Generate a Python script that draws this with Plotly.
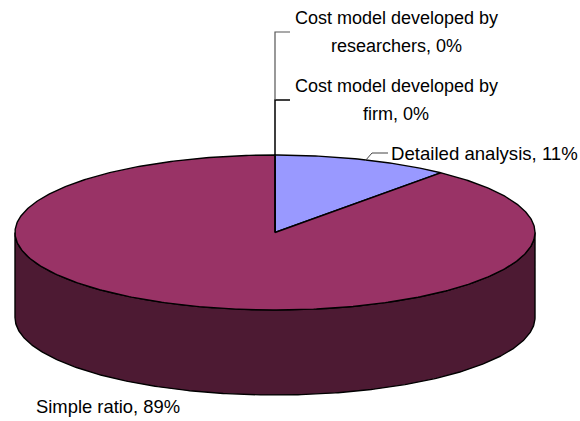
import math
import plotly.graph_objects as go

categories = ["Detailed analysis", "Simple ratio", "Cost model developed by firm", "Cost model developed by researchers"]
shares = [11, 89, 0, 0]
colors = ["#9999FF", "#993366", "#993366", "#993366"]
side_color = "#4D1A33"

CX, CY, RX, RY, DEPTH = 275, 232.5, 260, 77.5, 85
FAMILY = "Liberation Sans, Arial, sans-serif"


def rim(a0, a1, dy=0.0):
    n = max(2, int(abs(a1 - a0) * 90))
    xs, ys = [], []
    for i in range(n + 1):
        a = a0 + (a1 - a0) * i / n
        xs.append(CX + RX * math.sin(a))
        ys.append(CY - RY * math.cos(a) + dy)
    return xs, ys


fig = go.Figure()

# side wall: front half of the rim, moved down by the depth
tx, ty = rim(math.pi / 2, 3 * math.pi / 2)
bx, by = rim(3 * math.pi / 2, math.pi / 2, DEPTH)
fig.add_trace(go.Scatter(x=tx + bx + tx[:1], y=ty + by + ty[:1], mode="lines", fill="toself",
                         fillcolor=side_color, line=dict(color="black", width=1.4), hoverinfo="skip"))

# top faces, clockwise from twelve o'clock
start = 0.0
total = sum(shares)
for name, share, col in zip(categories, shares, colors):
    if share == 0:
        continue
    end = start + 2 * math.pi * share / total
    rx_, ry_ = rim(start, end)
    fig.add_trace(go.Scatter(x=[CX] + rx_ + [CX], y=[CY] + ry_ + [CY], mode="lines", fill="toself",
                             fillcolor=col, line=dict(color="black", width=1.4), name=name, hoverinfo="name"))
    start = end

# leader lines
leaders = [
    ([CX, CX, 290], [CY, 100, 100], "black", 1.5),
    ([CX, CX, 290], [100, 32, 32], "#555555", 1.2),
    ([365, 372, 388], [161, 153, 153], "#444444", 1),
]
for lx, ly, lc, lw in leaders:
    fig.add_trace(go.Scatter(x=lx, y=ly, mode="lines", line=dict(color=lc, width=lw), hoverinfo="skip"))

labels = [
    ("Cost model developed by", 396, 18, 18),
    ("researchers, 0%", 396, 46, 18),
    ("Cost model developed by", 396, 86, 18),
    ("firm, 0%", 396, 114, 18),
    ("Detailed analysis, 11%", 484, 153, 18.6),
    ("Simple ratio, 89%", 108, 406, 18.4),
]
annotations = [dict(text=t, x=x, y=y, xref="x", yref="y", showarrow=False,
                    font=dict(family=FAMILY, size=s, color="black"), align="center",
                    xanchor="center", yanchor="middle") for t, x, y, s in labels]

fig.update_layout(
    width=580, height=421, margin=dict(l=0, r=0, t=0, b=0), showlegend=False,
    paper_bgcolor="white", plot_bgcolor="white", annotations=annotations,
    xaxis=dict(range=[0, 580], visible=False, fixedrange=True),
    yaxis=dict(range=[421, 0], visible=False, fixedrange=True),
)
fig.write_html("out.html", config=dict(displayModeBar=False),
               post_script="document.body.style.margin='0';document.body.style.overflow='hidden';")
